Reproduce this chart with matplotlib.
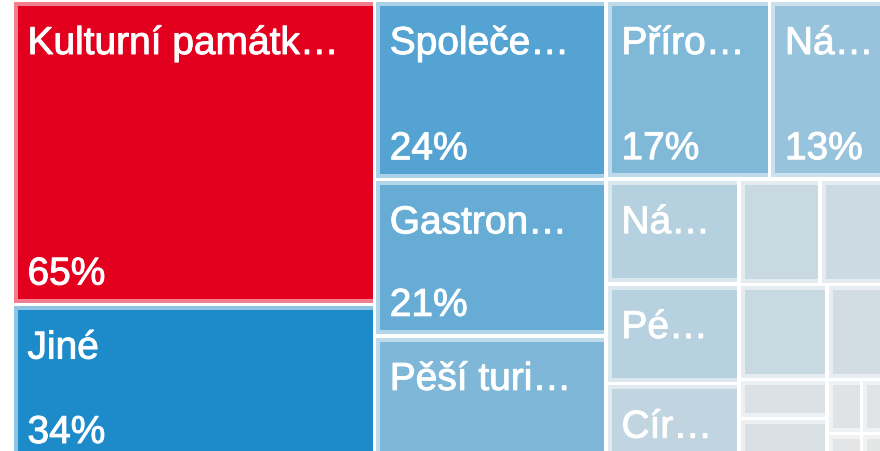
import matplotlib
matplotlib.use('Agg')
import matplotlib.pyplot as plt
import matplotlib.patheffects as pe
from matplotlib.patches import Rectangle
from matplotlib.colors import LinearSegmentedColormap, Normalize

# treemap data (labels as they appear, small tiles have no visible label)
labels = ["Kulturní památk…", "Jiné", "Společe…", "Gastron…", "Pěší turi…",
          "Příro…", "Ná…", "Ná…", "Pé…", "Cír…",
          "", "", "", "", "", "", "", "", "", ""]
values = [64.8, 33.7, 24.4, 21.3, 17.3,
          17.2, 13.0, 8.2, 7.8, 6.2,
          5.0, 4.5, 4.9, 3.7, 2.0, 2.3, 1.1, 1.0, 0.6, 0.55]

PHI = (1 + 5 ** 0.5) / 2
PX = 72 / 100  # points per pixel at dpi 100


def squarify(vals, x0, y0, x1, y1, ratio=PHI):
    # port of d3.treemapSquarify, keeps the input order
    rects = []
    value = sum(vals)
    i0, n = 0, len(vals)
    while i0 < n:
        dx, dy = x1 - x0, y1 - y0
        sum_v = vals[i0]
        min_v = max_v = sum_v
        alpha = max(dy / dx, dx / dy) / (value * ratio)
        beta = sum_v * sum_v * alpha
        min_ratio = max(max_v / beta, beta / min_v)
        i1 = i0 + 1
        while i1 < n:
            v = vals[i1]
            sum_v += v
            min_v = min(min_v, v)
            max_v = max(max_v, v)
            beta = sum_v * sum_v * alpha
            new_ratio = max(max_v / beta, beta / min_v)
            if new_ratio > min_ratio:
                sum_v -= v
                break
            min_ratio = new_ratio
            i1 += 1
        row = vals[i0:i1]
        if dx < dy:
            h = dy * sum_v / value
            x = x0
            for v in row:
                w = dx * v / sum_v
                rects.append((x, y0, w, h))
                x += w
            y0 += h
        else:
            w = dx * sum_v / value
            y = y0
            for v in row:
                h = dy * v / sum_v
                rects.append((x0, y, w, h))
                y += h
            x0 += w
        value -= sum_v
        i0 = i1
    return rects


fig = plt.figure(figsize=(8.8, 4.52), dpi=100)
ax = fig.add_axes([0, 0, 1, 1])
ax.set_xlim(0, 880)
ax.set_ylim(452, 0)
ax.axis('off')

cmap = LinearSegmentedColormap.from_list(
    'tm', [(0, '#e6e6e6'), (0.52, '#1c8acb'), (1, '#e3001f')])
norm = Normalize(0, max(values))

GAP = 1.75
fam = ['Liberation Sans', 'DejaVu Sans']
glow = [pe.withStroke(linewidth=0.7, foreground='white')]
rects = squarify(values, 12, 1, 893, 464)
for (x, y, w, h), v, lab in zip(rects, values, labels):
    c = cmap(norm(v))
    tile = Rectangle((x + GAP, y + GAP), w - 2 * GAP, h - 2 * GAP,
                     facecolor=c, edgecolor='none')
    ax.add_patch(tile)
    # light band on left, top and bottom only (right edge runs past the clip)
    band = Rectangle((x + GAP, y + GAP), w - 2 * GAP + 10, h - 2 * GAP,
                     fill=False, edgecolor=(1, 1, 1, 0.5), lw=8 * PX)
    ax.add_patch(band)
    band.set_clip_path(tile)
    if lab and w >= 100:
        ax.text(x + 15.5, y + 54, lab, color='white', fontsize=28, family=fam,
                va='baseline', ha='left', path_effects=glow)
    if h >= 140:
        ax.text(x + 15.5, y + h - 20, f"{round(v)}%", color='white', fontsize=28,
                family=fam, va='baseline', ha='left', path_effects=glow)

fig.savefig('out.png', dpi=100)
